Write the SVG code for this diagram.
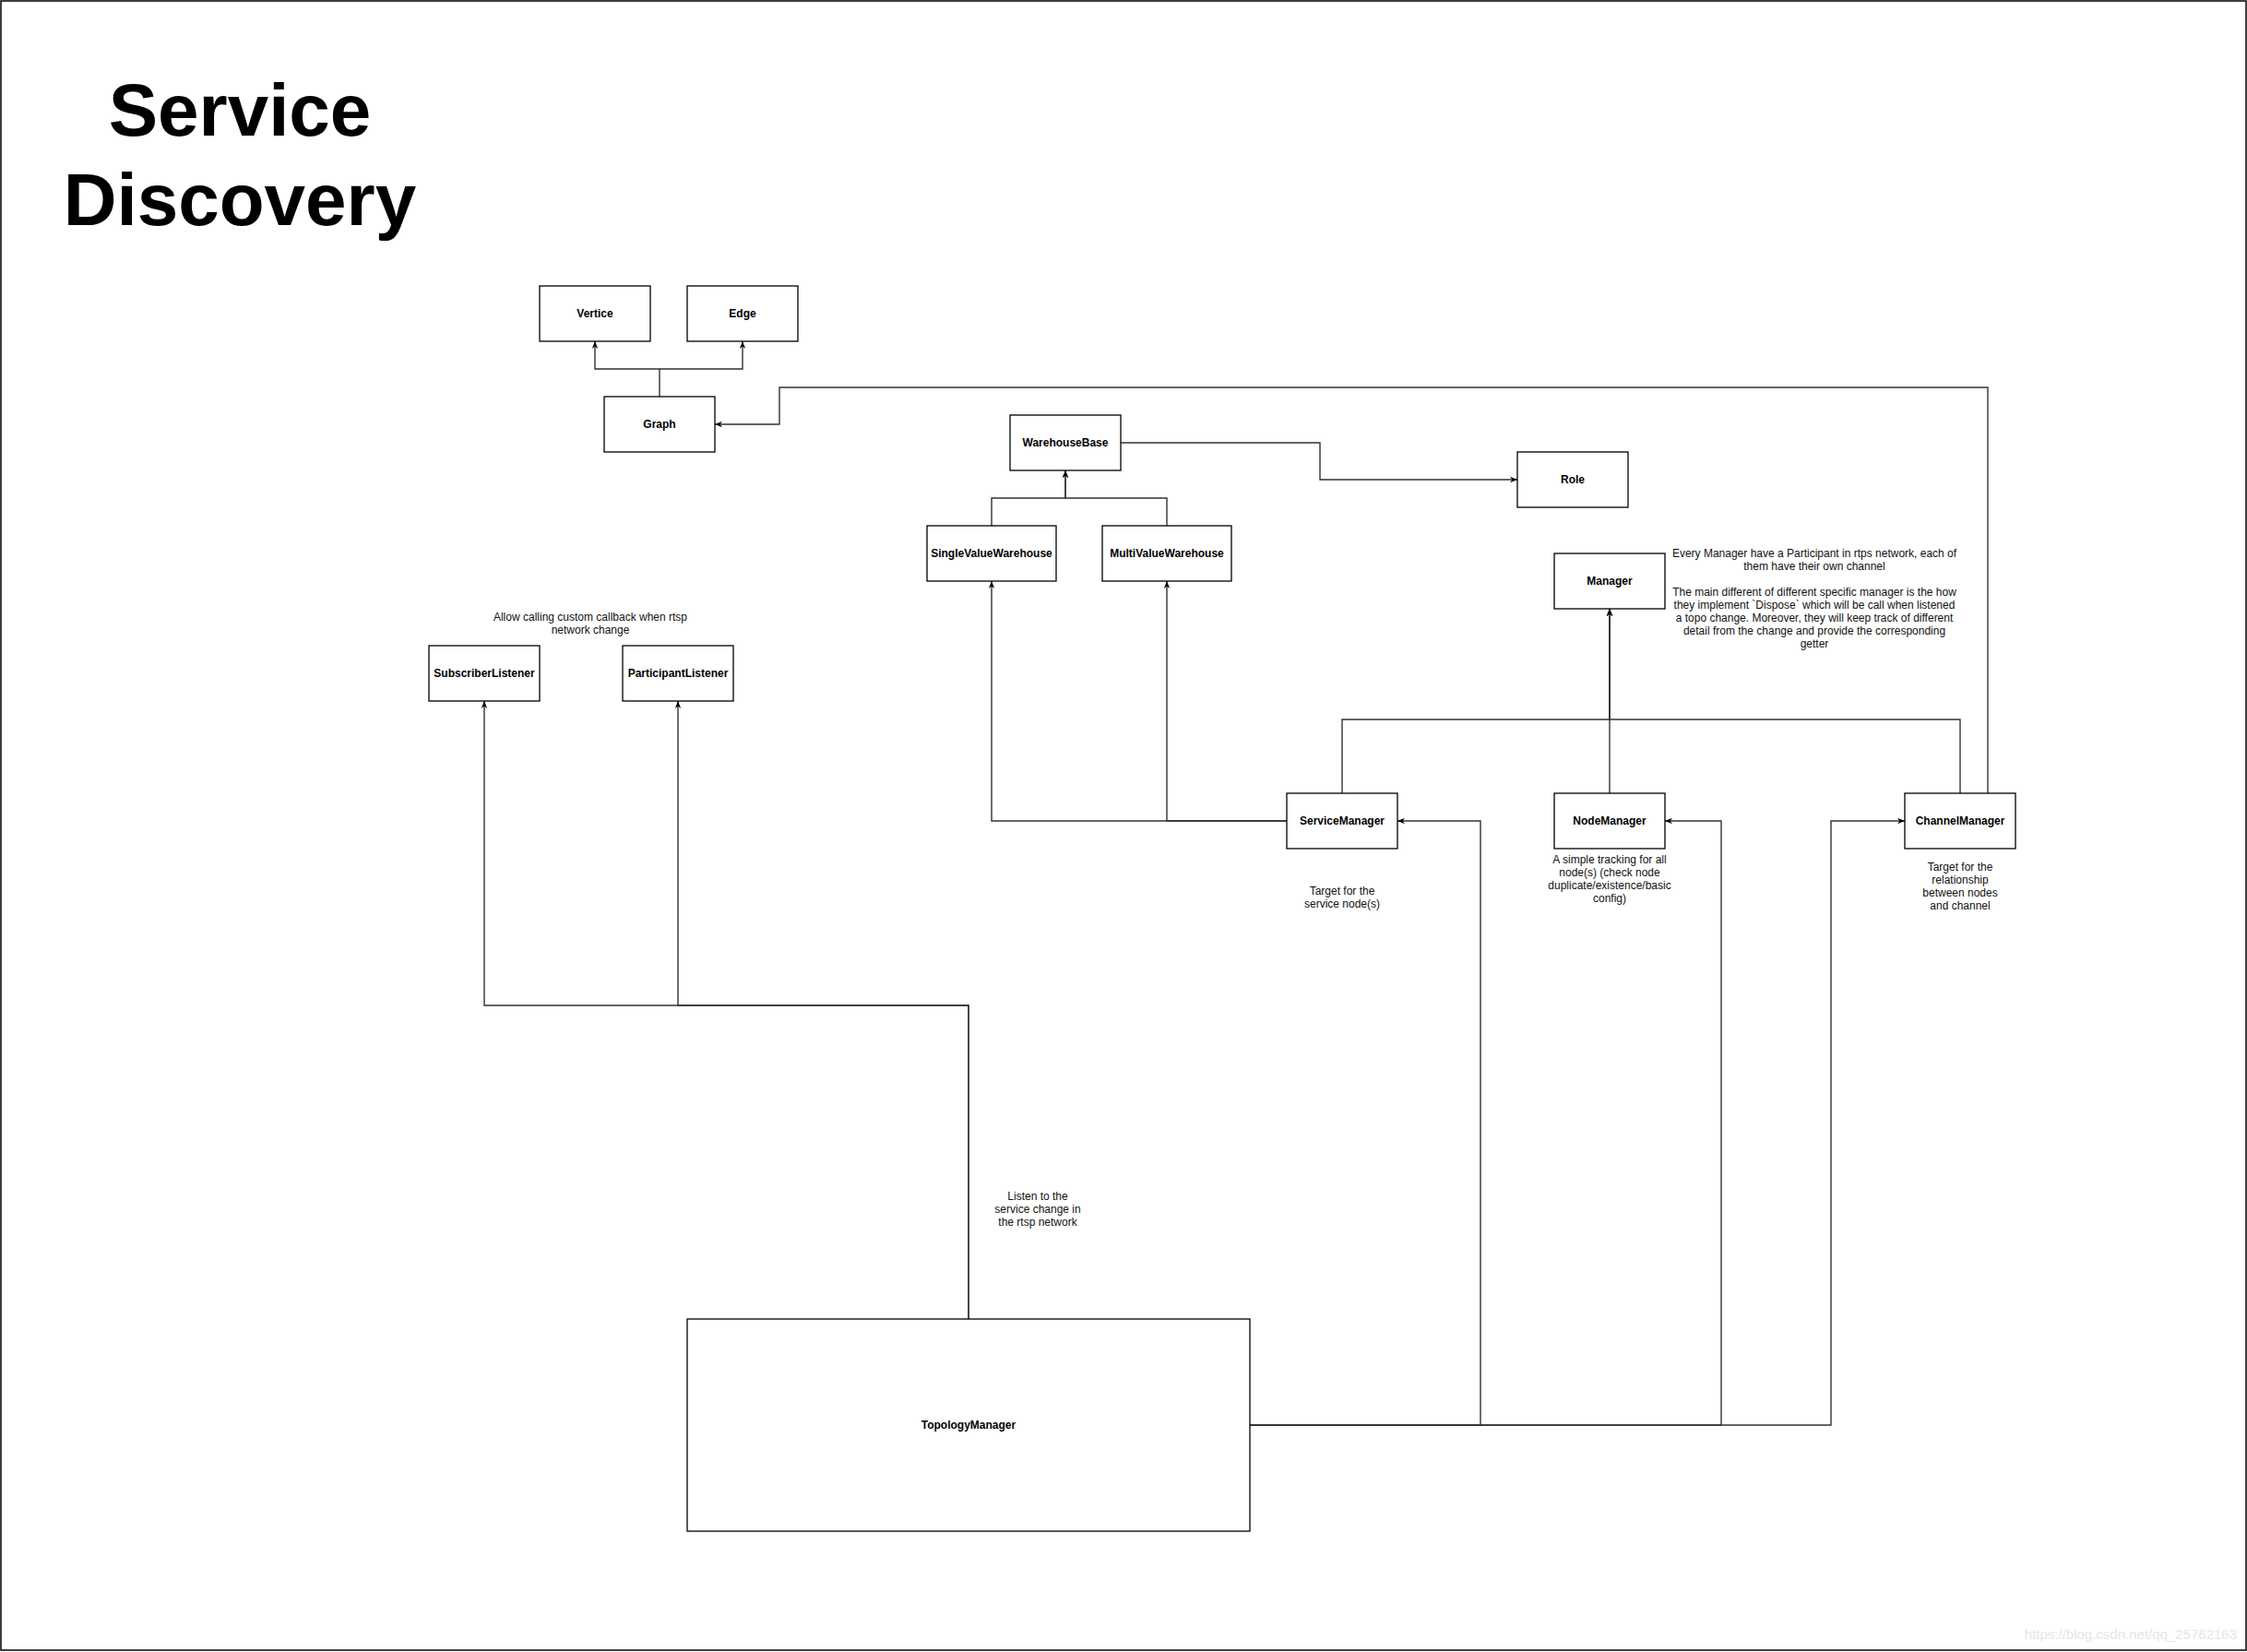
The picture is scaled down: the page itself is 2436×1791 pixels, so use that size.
<svg xmlns="http://www.w3.org/2000/svg" width="2436" height="1791" viewBox="0 0 2436 1791">
<style>
.box{fill:#fff;stroke:#000;stroke-width:1.3}
.lbl{font-family:"Liberation Sans",Arial,sans-serif;font-size:12px;font-weight:bold;fill:#000;text-anchor:middle}
.note{font-family:"Liberation Sans",Arial,sans-serif;font-size:12px;fill:#111;text-anchor:middle}
.edge{fill:none;stroke:#333;stroke-width:1.4}
.title{font-family:"Liberation Sans",Arial,sans-serif;font-size:80px;font-weight:bold;fill:#000;text-anchor:middle}
</style>
<defs>
<marker id="arr" viewBox="0 0 10 10" refX="10" refY="5" markerWidth="8" markerHeight="8" markerUnits="userSpaceOnUse" orient="auto">
<path d="M0,1 L10,5 L0,9 L3,5 z" fill="#000"/>
</marker>
</defs>
<rect x="0" y="0" width="2436" height="1791" fill="#fff"/>
<rect x="1" y="1" width="2434" height="1788" fill="none" stroke="#000" stroke-width="1.5"/>

<g id="title">
<text class="title" x="260" y="147">Service</text>
<text class="title" x="260" y="244">Discovery</text>
</g>

<g id="connectors">
<path class="edge" d="M715,430 V400 H645 V370" marker-end="url(#arr)"/>
<path class="edge" d="M715,400 H805 V370" marker-end="url(#arr)"/>
<path class="edge" d="M2155,860 V420 H845 V460 H775" marker-end="url(#arr)"/>
<path class="edge" d="M1075,570 V540 H1155 V510" marker-end="url(#arr)"/>
<path class="edge" d="M1265,570 V540 H1155 V510" marker-end="url(#arr)"/>
<path class="edge" d="M1215,480 H1431 V520 H1645" marker-end="url(#arr)"/>
<path class="edge" d="M1455,860 V780 H1745 V660" marker-end="url(#arr)"/>
<path class="edge" d="M1745,860 V660" marker-end="url(#arr)"/>
<path class="edge" d="M2125,860 V780 H1745 V660" marker-end="url(#arr)"/>
<path class="edge" d="M1395,890 H1075 V630" marker-end="url(#arr)"/>
<path class="edge" d="M1395,890 H1265 V630" marker-end="url(#arr)"/>
<path class="edge" d="M1050,1430 V1090 H525 V760" marker-end="url(#arr)"/>
<path class="edge" d="M1050,1430 V1090 H735 V760" marker-end="url(#arr)"/>
<path class="edge" d="M1355,1545 H1605 V890 H1515" marker-end="url(#arr)"/>
<path class="edge" d="M1355,1545 H1866 V890 H1805" marker-end="url(#arr)"/>
<path class="edge" d="M1355,1545 H1985 V890 H2065" marker-end="url(#arr)"/>
</g>

<g id="vertice"><rect class="box" x="585" y="310" width="120" height="60"/><text class="lbl" x="645" y="344">Vertice</text></g>
<g id="edge"><rect class="box" x="745" y="310" width="120" height="60"/><text class="lbl" x="805" y="344">Edge</text></g>
<g id="graph"><rect class="box" x="655" y="430" width="120" height="60"/><text class="lbl" x="715" y="464">Graph</text></g>
<g id="warehousebase"><rect class="box" x="1095" y="450" width="120" height="60"/><text class="lbl" x="1155" y="484">WarehouseBase</text></g>
<g id="role"><rect class="box" x="1645" y="490" width="120" height="60"/><text class="lbl" x="1705" y="524">Role</text></g>
<g id="singlevaluewarehouse"><rect class="box" x="1005" y="570" width="140" height="60"/><text class="lbl" x="1075" y="604">SingleValueWarehouse</text></g>
<g id="multivaluewarehouse"><rect class="box" x="1195" y="570" width="140" height="60"/><text class="lbl" x="1265" y="604">MultiValueWarehouse</text></g>
<g id="manager"><rect class="box" x="1685" y="600" width="120" height="60"/><text class="lbl" x="1745" y="634">Manager</text></g>
<g id="subscriberlistener"><rect class="box" x="465" y="700" width="120" height="60"/><text class="lbl" x="525" y="734">SubscriberListener</text></g>
<g id="participantlistener"><rect class="box" x="675" y="700" width="120" height="60"/><text class="lbl" x="735" y="734">ParticipantListener</text></g>
<g id="servicemanager"><rect class="box" x="1395" y="860" width="120" height="60"/><text class="lbl" x="1455" y="894">ServiceManager</text></g>
<g id="nodemanager"><rect class="box" x="1685" y="860" width="120" height="60"/><text class="lbl" x="1745" y="894">NodeManager</text></g>
<g id="channelmanager"><rect class="box" x="2065" y="860" width="120" height="60"/><text class="lbl" x="2125" y="894">ChannelManager</text></g>
<g id="topologymanager"><rect class="box" x="745" y="1430" width="610" height="230"/><text class="lbl" x="1050" y="1549">TopologyManager</text></g>

<g id="notes">
<text class="note" x="640" y="673">Allow calling custom callback when rtsp</text>
<text class="note" x="640" y="687">network change</text>
<text class="note" x="1967" y="604">Every Manager have a Participant in rtps network, each of</text>
<text class="note" x="1967" y="618">them have their own channel</text>
<text class="note" x="1967" y="646">The main different of different specific manager is the how</text>
<text class="note" x="1967" y="660">they implement `Dispose` which will be call when listened</text>
<text class="note" x="1967" y="674">a topo change. Moreover, they will keep track of different</text>
<text class="note" x="1967" y="688">detail from the change and provide the corresponding</text>
<text class="note" x="1967" y="702">getter</text>
<text class="note" x="1455" y="970">Target for the</text>
<text class="note" x="1455" y="984">service node(s)</text>
<text class="note" x="1745" y="936">A simple tracking for all</text>
<text class="note" x="1745" y="950">node(s) (check node</text>
<text class="note" x="1745" y="964">duplicate/existence/basic</text>
<text class="note" x="1745" y="978">config)</text>
<text class="note" x="2125" y="944">Target for the</text>
<text class="note" x="2125" y="958">relationship</text>
<text class="note" x="2125" y="972">between nodes</text>
<text class="note" x="2125" y="986">and channel</text>
<text class="note" x="1125" y="1301">Listen to the</text>
<text class="note" x="1125" y="1315">service change in</text>
<text class="note" x="1125" y="1329">the rtsp network</text>
</g>
<text x="2425" y="1777" font-family="'Liberation Sans',Arial,sans-serif" font-size="15" fill="#e6e6e6" text-anchor="end">https://blog.csdn.net/qq_25762163</text>
</svg>
